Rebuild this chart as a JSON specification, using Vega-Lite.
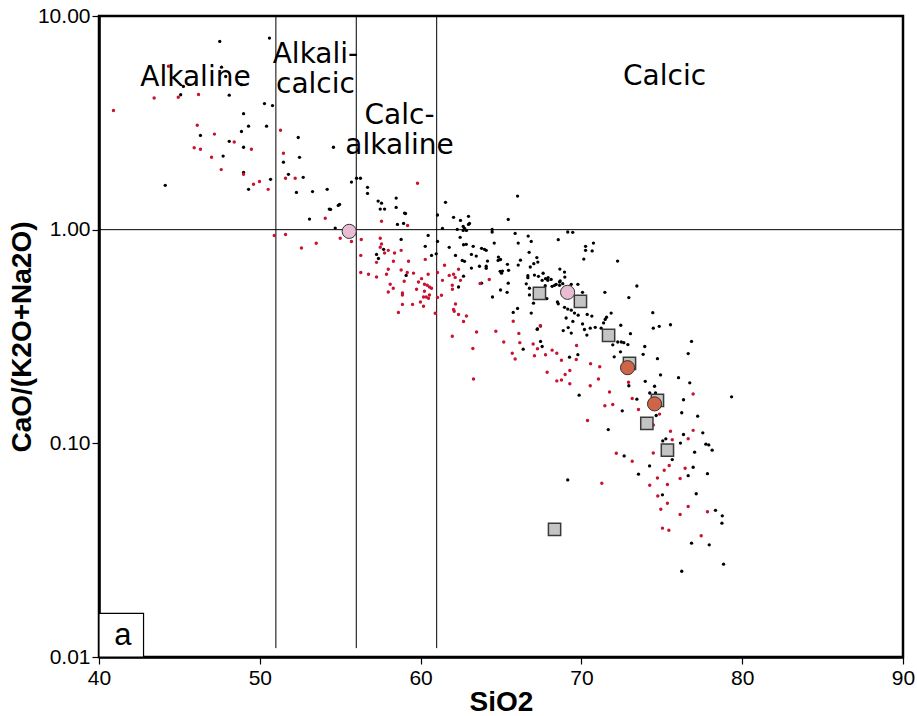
{
"$schema": "https://vega.github.io/schema/vega-lite/v6.json",
"width": 804, "height": 641,
"autosize": {"type": "none"},
"padding": {"left": 99, "top": 16, "right": 14, "bottom": 59},
"background": "white",
"config": {
 "view": {"stroke": "#000", "strokeWidth": 2.5},
 "axis": {"grid": false, "domainColor": "#000", "domainWidth": 2.5, "tickColor": "#000", "tickWidth": 1.2, "tickSize": 7, "labelFont": "Liberation Sans", "labelFontSize": 21, "labelColor": "#000", "titleFont": "Liberation Sans", "titleFontWeight": "bold", "titleFontSize": 28, "titleColor": "#000", "labelOverlap": false}
},
"datasets": {
 "black": [
{"SiO2":47.51,"ratio":7.60},{"SiO2":50.60,"ratio":7.88},{"SiO2":47.62,"ratio":5.76},{"SiO2":47.88,"ratio":5.21},{"SiO2":45.25,"ratio":4.68},{"SiO2":45.08,"ratio":4.28},{"SiO2":48.10,"ratio":4.26},{"SiO2":48.86,"ratio":4.77},{"SiO2":50.29,"ratio":3.89},{"SiO2":50.79,"ratio":3.81},{"SiO2":48.99,"ratio":3.49},{"SiO2":49.30,"ratio":3.05},{"SiO2":48.86,"ratio":2.88},{"SiO2":50.42,"ratio":3.05},{"SiO2":46.31,"ratio":2.76},{"SiO2":48.10,"ratio":2.59},{"SiO2":48.99,"ratio":2.43},{"SiO2":47.72,"ratio":2.21},{"SiO2":48.99,"ratio":1.853},{"SiO2":44.12,"ratio":1.612},{"SiO2":50.67,"ratio":1.72},{"SiO2":49.30,"ratio":1.544},{"SiO2":52.39,"ratio":2.70},{"SiO2":52.47,"ratio":2.18},{"SiO2":51.47,"ratio":2.07},{"SiO2":51.78,"ratio":1.815},{"SiO2":52.70,"ratio":1.757},{"SiO2":54.58,"ratio":2.43},{"SiO2":52.28,"ratio":1.494},{"SiO2":53.28,"ratio":1.507},{"SiO2":54.19,"ratio":1.544},{"SiO2":55.70,"ratio":1.67},{"SiO2":56.02,"ratio":1.74},{"SiO2":56.26,"ratio":1.74},{"SiO2":56.70,"ratio":1.578},{"SiO2":56.70,"ratio":1.478},{"SiO2":54.96,"ratio":1.313},{"SiO2":54.88,"ratio":1.299},{"SiO2":54.32,"ratio":1.248},{"SiO2":54.40,"ratio":1.244},{"SiO2":53.09,"ratio":1.121},{"SiO2":54.69,"ratio":1.017},
{"SiO2":57.36,"ratio":1.361},{"SiO2":57.57,"ratio":1.33},{"SiO2":58.48,"ratio":1.405},{"SiO2":58.48,"ratio":1.271},{"SiO2":57.49,"ratio":1.248},{"SiO2":57.76,"ratio":1.248},{"SiO2":59.00,"ratio":1.196},{"SiO2":59.06,"ratio":1.19},{"SiO2":58.56,"ratio":1.058},{"SiO2":58.94,"ratio":1.07},{"SiO2":61.55,"ratio":1.342},{"SiO2":61.05,"ratio":1.171},{"SiO2":62.05,"ratio":1.142},{"SiO2":62.48,"ratio":1.105},{"SiO2":62.98,"ratio":1.155},{"SiO2":63.04,"ratio":1.07},{"SiO2":62.98,"ratio":1.058},{"SiO2":62.65,"ratio":1.036},{"SiO2":62.73,"ratio":1.014},{"SiO2":62.65,"ratio":0.992},{"SiO2":62.85,"ratio":0.992},{"SiO2":62.28,"ratio":1.003},{"SiO2":61.36,"ratio":1.014},{"SiO2":64.45,"ratio":1.003},{"SiO2":64.45,"ratio":0.975},{"SiO2":65.45,"ratio":1.117},{"SiO2":66.03,"ratio":1.436},{"SiO2":65.88,"ratio":0.96},{"SiO2":66.07,"ratio":0.865},{"SiO2":66.07,"ratio":0.683},{"SiO2":58.79,"ratio":0.90},{"SiO2":60.47,"ratio":0.94},{"SiO2":60.29,"ratio":0.836},{"SiO2":61.05,"ratio":0.881},{"SiO2":61.78,"ratio":0.827},{"SiO2":62.46,"ratio":0.921},{"SiO2":62.84,"ratio":0.854},{"SiO2":62.67,"ratio":0.85},{"SiO2":63.27,"ratio":0.836},{"SiO2":63.79,"ratio":0.818},{"SiO2":63.97,"ratio":0.809},{"SiO2":64.08,"ratio":0.80},{"SiO2":64.58,"ratio":0.865},{"SiO2":63.16,"ratio":0.766},{"SiO2":63.46,"ratio":0.752},{"SiO2":62.17,"ratio":0.758},{"SiO2":60.97,"ratio":0.771},{"SiO2":60.68,"ratio":0.758},{"SiO2":57.70,"ratio":0.809},{"SiO2":57.26,"ratio":0.766},{"SiO2":57.38,"ratio":0.733},{"SiO2":64.16,"ratio":0.713},{"SiO2":64.84,"ratio":0.744},{"SiO2":64.97,"ratio":0.725},{"SiO2":64.82,"ratio":0.718},{"SiO2":62.59,"ratio":0.718},{"SiO2":62.73,"ratio":0.711},{"SiO2":63.16,"ratio":0.661},{"SiO2":63.66,"ratio":0.674},{"SiO2":64.08,"ratio":0.674},{"SiO2":64.08,"ratio":0.66},{"SiO2":64.95,"ratio":0.638},{"SiO2":65.03,"ratio":0.626},{"SiO2":65.09,"ratio":0.64},{"SiO2":65.40,"ratio":0.688},{"SiO2":65.47,"ratio":0.645},{"SiO2":62.67,"ratio":0.606},{"SiO2":62.36,"ratio":0.539},{"SiO2":63.79,"ratio":0.562},{"SiO2":64.97,"ratio":0.522},{"SiO2":65.38,"ratio":0.509},{"SiO2":65.45,"ratio":0.562},{"SiO2":64.47,"ratio":0.484},{"SiO2":65.76,"ratio":0.41},{"SiO2":66.03,"ratio":0.428},{"SiO2":59.10,"ratio":0.611},
{"SiO2":66.69,"ratio":0.933},{"SiO2":66.88,"ratio":0.881},{"SiO2":66.75,"ratio":0.783},{"SiO2":67.23,"ratio":0.74},{"SiO2":67.29,"ratio":0.705},{"SiO2":67.04,"ratio":0.693},{"SiO2":66.82,"ratio":0.669},{"SiO2":66.67,"ratio":0.609},{"SiO2":66.67,"ratio":0.596},{"SiO2":67.08,"ratio":0.613},{"SiO2":67.33,"ratio":0.605},{"SiO2":66.57,"ratio":0.558},{"SiO2":66.77,"ratio":0.532},{"SiO2":66.77,"ratio":0.495},{"SiO2":67.02,"ratio":0.453},{"SiO2":66.88,"ratio":0.407},{"SiO2":67.25,"ratio":0.342},{"SiO2":67.56,"ratio":0.579},{"SiO2":67.77,"ratio":0.59},{"SiO2":67.91,"ratio":0.579},{"SiO2":67.93,"ratio":0.597},{"SiO2":68.12,"ratio":0.585},{"SiO2":67.85,"ratio":0.476},{"SiO2":67.62,"ratio":0.625},{"SiO2":67.75,"ratio":0.547},{"SiO2":68.18,"ratio":0.543},{"SiO2":68.33,"ratio":0.549},{"SiO2":68.43,"ratio":0.555},{"SiO2":68.64,"ratio":0.569},{"SiO2":68.68,"ratio":0.575},{"SiO2":68.64,"ratio":0.549},{"SiO2":68.84,"ratio":0.559},{"SiO2":68.66,"ratio":0.654},{"SiO2":68.56,"ratio":0.898},{"SiO2":69.15,"ratio":0.975},{"SiO2":69.46,"ratio":0.972},{"SiO2":68.95,"ratio":0.633},{"SiO2":68.97,"ratio":0.6},{"SiO2":69.37,"ratio":0.555},{"SiO2":69.78,"ratio":0.555},{"SiO2":70.07,"ratio":0.509},{"SiO2":68.51,"ratio":0.459},{"SiO2":68.56,"ratio":0.45},{"SiO2":68.95,"ratio":0.433},{"SiO2":69.15,"ratio":0.425},{"SiO2":69.37,"ratio":0.42},{"SiO2":69.57,"ratio":0.407},{"SiO2":69.05,"ratio":0.386},{"SiO2":69.47,"ratio":0.372},{"SiO2":68.87,"ratio":0.337},{"SiO2":69.18,"ratio":0.348},{"SiO2":69.37,"ratio":0.328},{"SiO2":67.46,"ratio":0.354},{"SiO2":67.27,"ratio":0.343},{"SiO2":67.46,"ratio":0.30},{"SiO2":67.56,"ratio":0.284},{"SiO2":66.38,"ratio":0.276},{"SiO2":69.80,"ratio":0.398},{"SiO2":70.07,"ratio":0.362},{"SiO2":70.19,"ratio":0.341},{"SiO2":70.36,"ratio":0.401},{"SiO2":70.65,"ratio":0.394},{"SiO2":70.34,"ratio":0.321},{"SiO2":70.55,"ratio":0.346},{"SiO2":70.86,"ratio":0.349},{"SiO2":70.26,"ratio":0.836},{"SiO2":70.26,"ratio":0.80},{"SiO2":70.67,"ratio":0.795},{"SiO2":70.75,"ratio":0.865},{"SiO2":70.15,"ratio":0.728},{"SiO2":72.25,"ratio":0.713},{"SiO2":73.45,"ratio":0.545},{"SiO2":72.95,"ratio":0.481},{"SiO2":71.46,"ratio":0.509},{"SiO2":71.38,"ratio":0.366},{"SiO2":71.48,"ratio":0.38},{"SiO2":71.56,"ratio":0.389},{"SiO2":71.85,"ratio":0.407},{"SiO2":71.23,"ratio":0.346},{"SiO2":72.45,"ratio":0.357},{"SiO2":73.05,"ratio":0.326},{"SiO2":71.95,"ratio":0.289},{"SiO2":72.26,"ratio":0.298},{"SiO2":72.48,"ratio":0.298},{"SiO2":72.64,"ratio":0.296},{"SiO2":72.89,"ratio":0.29},{"SiO2":72.43,"ratio":0.268},{"SiO2":72.04,"ratio":0.254},{"SiO2":73.94,"ratio":0.284},{"SiO2":73.84,"ratio":0.261},{"SiO2":74.44,"ratio":0.409},{"SiO2":74.47,"ratio":0.346},{"SiO2":74.84,"ratio":0.353},{"SiO2":74.73,"ratio":0.249},{"SiO2":74.92,"ratio":0.209},{"SiO2":73.97,"ratio":0.195},{"SiO2":74.55,"ratio":0.185},{"SiO2":72.95,"ratio":0.186},{"SiO2":69.78,"ratio":0.26},{"SiO2":69.26,"ratio":0.253},{"SiO2":66.21,"ratio":0.72},
{"SiO2":75.54,"ratio":0.359},{"SiO2":76.85,"ratio":0.30},{"SiO2":76.64,"ratio":0.263},{"SiO2":76.04,"ratio":0.203},{"SiO2":76.74,"ratio":0.192},{"SiO2":76.35,"ratio":0.16},{"SiO2":76.24,"ratio":0.139},{"SiO2":77.23,"ratio":0.134},{"SiO2":79.34,"ratio":0.165},{"SiO2":74.61,"ratio":0.172},{"SiO2":74.25,"ratio":0.172},{"SiO2":73.45,"ratio":0.161},{"SiO2":72.54,"ratio":0.142},{"SiO2":74.65,"ratio":0.135},{"SiO2":69.86,"ratio":0.168},
{"SiO2":71.67,"ratio":0.116},{"SiO2":72.66,"ratio":0.0873},{"SiO2":73.55,"ratio":0.0717},{"SiO2":74.24,"ratio":0.0784},{"SiO2":75.06,"ratio":0.1026},{"SiO2":75.25,"ratio":0.105},{"SiO2":76.16,"ratio":0.1003},{"SiO2":76.35,"ratio":0.11},{"SiO2":77.55,"ratio":0.112},{"SiO2":77.74,"ratio":0.0991},{"SiO2":77.92,"ratio":0.0983},{"SiO2":78.13,"ratio":0.0929},{"SiO2":77.04,"ratio":0.0909},{"SiO2":75.65,"ratio":0.0839},{"SiO2":76.95,"ratio":0.0773},{"SiO2":76.64,"ratio":0.0706},{"SiO2":77.84,"ratio":0.0721},{"SiO2":75.04,"ratio":0.0574},{"SiO2":77.14,"ratio":0.0581},{"SiO2":78.34,"ratio":0.0486},{"SiO2":78.76,"ratio":0.0458},{"SiO2":78.74,"ratio":0.0423},{"SiO2":76.85,"ratio":0.0341},{"SiO2":77.95,"ratio":0.0335},{"SiO2":78.84,"ratio":0.0272},{"SiO2":76.24,"ratio":0.0252},{"SiO2":69.15,"ratio":0.0674}
 ],
 "red": [
{"SiO2":40.90,"ratio":3.61},{"SiO2":44.32,"ratio":5.82},{"SiO2":43.43,"ratio":4.13},{"SiO2":44.93,"ratio":4.17},{"SiO2":46.19,"ratio":4.29},{"SiO2":46.11,"ratio":3.08},{"SiO2":47.18,"ratio":2.80},{"SiO2":48.41,"ratio":2.57},{"SiO2":45.92,"ratio":2.42},{"SiO2":46.31,"ratio":2.38},{"SiO2":49.48,"ratio":2.38},{"SiO2":47.00,"ratio":2.18},{"SiO2":47.60,"ratio":1.91},{"SiO2":48.99,"ratio":1.815},{"SiO2":49.61,"ratio":1.63},{"SiO2":49.98,"ratio":1.68},{"SiO2":50.52,"ratio":1.544},{"SiO2":51.29,"ratio":2.92},{"SiO2":51.47,"ratio":2.28},{"SiO2":51.60,"ratio":1.74},{"SiO2":52.20,"ratio":1.74},{"SiO2":54.07,"ratio":1.13},{"SiO2":50.90,"ratio":0.94},{"SiO2":51.60,"ratio":0.95},{"SiO2":52.59,"ratio":0.82},{"SiO2":53.51,"ratio":0.863},{"SiO2":55.00,"ratio":0.911},{"SiO2":55.70,"ratio":0.881},{"SiO2":56.31,"ratio":0.90},{"SiO2":56.28,"ratio":0.758},{"SiO2":56.28,"ratio":0.631},{"SiO2":57.99,"ratio":0.511},{"SiO2":56.76,"ratio":0.618},{"SiO2":57.26,"ratio":0.60},{"SiO2":57.26,"ratio":0.703},{"SiO2":57.49,"ratio":0.911},{"SiO2":57.57,"ratio":0.856},{"SiO2":57.49,"ratio":0.827},{"SiO2":57.76,"ratio":0.777},{"SiO2":57.99,"ratio":0.80},{"SiO2":58.38,"ratio":0.777},{"SiO2":58.79,"ratio":0.80},{"SiO2":57.57,"ratio":1.094},{"SiO2":59.19,"ratio":1.047},{"SiO2":59.81,"ratio":1.65},{"SiO2":57.99,"ratio":0.652},{"SiO2":57.88,"ratio":0.618},{"SiO2":58.31,"ratio":0.711},{"SiO2":58.79,"ratio":0.647},{"SiO2":59.25,"ratio":0.711},{"SiO2":59.17,"ratio":0.631},{"SiO2":59.56,"ratio":0.626},{"SiO2":58.11,"ratio":0.555},{"SiO2":58.30,"ratio":0.532},{"SiO2":58.98,"ratio":0.573},{"SiO2":58.87,"ratio":0.505},{"SiO2":58.87,"ratio":0.494},{"SiO2":58.87,"ratio":0.447},{"SiO2":58.62,"ratio":0.41},{"SiO2":59.50,"ratio":0.447},{"SiO2":59.75,"ratio":0.526},{"SiO2":59.87,"ratio":0.569},{"SiO2":60.06,"ratio":0.59},{"SiO2":60.24,"ratio":0.555},{"SiO2":60.41,"ratio":0.549},{"SiO2":60.55,"ratio":0.539},{"SiO2":60.68,"ratio":0.532},{"SiO2":60.24,"ratio":0.515},{"SiO2":60.55,"ratio":0.495},{"SiO2":60.18,"ratio":0.484},{"SiO2":60.35,"ratio":0.484},{"SiO2":60.49,"ratio":0.477},{"SiO2":59.99,"ratio":0.459},{"SiO2":60.18,"ratio":0.438},{"SiO2":60.47,"ratio":0.618},{"SiO2":60.29,"ratio":0.726},{"SiO2":60.91,"ratio":0.406},{"SiO2":61.05,"ratio":0.482},{"SiO2":61.30,"ratio":0.493},{"SiO2":61.05,"ratio":0.631},{"SiO2":61.36,"ratio":0.579},{"SiO2":61.49,"ratio":0.681},{"SiO2":61.78,"ratio":0.611},{"SiO2":62.05,"ratio":0.618},{"SiO2":62.15,"ratio":0.598},{"SiO2":62.36,"ratio":0.652},{"SiO2":61.97,"ratio":0.549},{"SiO2":61.98,"ratio":0.526},{"SiO2":62.48,"ratio":0.579},{"SiO2":62.17,"ratio":0.449},{"SiO2":62.05,"ratio":0.423},{"SiO2":62.09,"ratio":0.415},{"SiO2":62.36,"ratio":0.401},{"SiO2":62.85,"ratio":0.394},{"SiO2":62.67,"ratio":0.372},{"SiO2":63.70,"ratio":0.56},{"SiO2":64.27,"ratio":0.585},{"SiO2":61.97,"ratio":0.317},{"SiO2":63.48,"ratio":0.332},{"SiO2":64.68,"ratio":0.335},{"SiO2":65.17,"ratio":0.298},{"SiO2":63.25,"ratio":0.278},{"SiO2":65.76,"ratio":0.373},{"SiO2":66.11,"ratio":0.327},{"SiO2":67.00,"ratio":0.292},{"SiO2":67.27,"ratio":0.277},{"SiO2":67.44,"ratio":0.355},{"SiO2":67.77,"ratio":0.26},{"SiO2":68.18,"ratio":0.273},{"SiO2":68.47,"ratio":0.264},{"SiO2":67.08,"ratio":0.257},{"SiO2":66.17,"ratio":0.296},{"SiO2":65.70,"ratio":0.264},{"SiO2":65.88,"ratio":0.248},{"SiO2":63.29,"ratio":0.2},{"SiO2":68.76,"ratio":0.245},{"SiO2":69.68,"ratio":0.247},{"SiO2":69.70,"ratio":0.287},{"SiO2":70.57,"ratio":0.236},{"SiO2":71.14,"ratio":0.228},{"SiO2":71.06,"ratio":0.2},{"SiO2":67.87,"ratio":0.215},{"SiO2":68.47,"ratio":0.196},{"SiO2":68.76,"ratio":0.198},{"SiO2":68.99,"ratio":0.21},{"SiO2":69.28,"ratio":0.219},{"SiO2":69.28,"ratio":0.19},{"SiO2":70.55,"ratio":0.186},{"SiO2":72.93,"ratio":0.193},{"SiO2":76.95,"ratio":0.17},{"SiO2":73.16,"ratio":0.162},{"SiO2":73.55,"ratio":0.144},{"SiO2":74.86,"ratio":0.137},{"SiO2":71.46,"ratio":0.15},{"SiO2":71.95,"ratio":0.152},{"SiO2":71.75,"ratio":0.174},{"SiO2":70.38,"ratio":0.128},{"SiO2":75.54,"ratio":0.114},{"SiO2":75.65,"ratio":0.104},{"SiO2":76.95,"ratio":0.115},{"SiO2":76.64,"ratio":0.105},{"SiO2":74.47,"ratio":0.0902},{"SiO2":72.17,"ratio":0.0899},{"SiO2":73.16,"ratio":0.0825},{"SiO2":71.27,"ratio":0.0651},{"SiO2":75.46,"ratio":0.0788},{"SiO2":75.15,"ratio":0.0749},{"SiO2":74.73,"ratio":0.0689},{"SiO2":75.35,"ratio":0.0642},{"SiO2":74.25,"ratio":0.0637},{"SiO2":76.45,"ratio":0.0765},{"SiO2":76.14,"ratio":0.0684},{"SiO2":74.75,"ratio":0.0567},{"SiO2":75.35,"ratio":0.0524},{"SiO2":74.94,"ratio":0.0491},{"SiO2":76.64,"ratio":0.0506},{"SiO2":76.14,"ratio":0.0464},{"SiO2":77.84,"ratio":0.0478},{"SiO2":75.04,"ratio":0.0401},{"SiO2":75.44,"ratio":0.0392},{"SiO2":77.45,"ratio":0.0369},{"SiO2":74.47,"ratio":0.122}
 ],
 "squares": [
{"SiO2":67.39,"ratio":0.503},{"SiO2":69.94,"ratio":0.462},{"SiO2":71.69,"ratio":0.32},{"SiO2":72.99,"ratio":0.237},{"SiO2":74.73,"ratio":0.159},{"SiO2":74.07,"ratio":0.124},{"SiO2":75.35,"ratio":0.0929},{"SiO2":68.33,"ratio":0.0396}
 ],
 "circles": [
{"SiO2":55.56,"ratio":0.982,"kind":"pink"},{"SiO2":69.14,"ratio":0.509,"kind":"pink"},{"SiO2":72.87,"ratio":0.226,"kind":"orange"},{"SiO2":74.55,"ratio":0.153,"kind":"orange"}
 ],
 "vlines": [
{"SiO2":51,"ratio":10,"ratio2":0.011},{"SiO2":56,"ratio":10,"ratio2":0.011},{"SiO2":61,"ratio":10,"ratio2":0.011}
 ],
 "hline": [{"SiO2":40,"SiO2b":90,"ratio":1}],
 "box": [{"SiO2":40,"SiO2b":42.77,"ratio":0.01,"ratio2":0.016}],
 "labels": [
{"SiO2":46.0,"ratio":5.15,"label":"Alkaline"},{"SiO2":53.46,"ratio":6.54,"label":"Alkali-\ncalcic"},{"SiO2":58.69,"ratio":3.42,"label":"Calc-\nalkaline"},{"SiO2":75.17,"ratio":5.21,"label":"Calcic"}
 ],
 "panel": [{"SiO2":41.48,"ratio":0.0126,"label":"a"}]
},
"encoding": {
 "x": {"field": "SiO2", "type": "quantitative", "title": "SiO2",
   "scale": {"domain": [40, 90], "nice": false, "zero": false},
   "axis": {"values": [40, 50, 60, 70, 80, 90], "labelFlush": false, "labelPadding": 3, "titlePadding": 0}},
 "y": {"field": "ratio", "type": "quantitative", "title": "CaO/(K2O+Na2O)",
   "scale": {"type": "log", "domain": [0.01, 10], "nice": false},
   "axis": {"values": [0.01, 0.1, 1, 10], "format": ".2f", "labelPadding": 2, "titlePadding": 1}}
},
"layer": [
 {"data": {"name": "vlines"}, "mark": {"type": "rule", "color": "#000", "strokeWidth": 1}, "encoding": {"y2": {"field": "ratio2"}}},
 {"data": {"name": "hline"}, "mark": {"type": "rule", "color": "#000", "strokeWidth": 1}, "encoding": {"x2": {"field": "SiO2b"}}},
 {"data": {"name": "box"}, "mark": {"type": "rect", "fill": "white", "stroke": "#000", "strokeWidth": 1.2}, "encoding": {"x2": {"field": "SiO2b"}, "y2": {"field": "ratio2"}}},
 {"data": {"name": "panel"}, "mark": {"type": "text", "font": "Liberation Sans", "fontSize": 31, "align": "center", "baseline": "middle", "color": "#000"}, "encoding": {"text": {"field": "label"}}},
 {"data": {"name": "black"}, "mark": {"type": "circle", "size": 11, "color": "#000", "opacity": 1}},
 {"data": {"name": "red"}, "mark": {"type": "circle", "size": 12, "color": "#c81432", "opacity": 1}},
 {"data": {"name": "squares"}, "mark": {"type": "square", "size": 150, "fill": "#c4c4c4", "stroke": "#3a3a3a", "strokeWidth": 1.5, "opacity": 1}},
 {"data": {"name": "circles"}, "mark": {"type": "point", "shape": "circle", "filled": true, "size": 200, "stroke": "#333", "strokeWidth": 1, "opacity": 1},
  "encoding": {"fill": {"field": "kind", "type": "nominal", "scale": {"domain": ["pink", "orange"], "range": ["#e8bcd2", "#cf6446"]}, "legend": null}}},
 {"data": {"name": "labels"}, "mark": {"type": "text", "font": "DejaVu Sans", "fontSize": 28, "lineHeight": 30, "lineBreak": "\n", "align": "center", "baseline": "middle", "color": "#000"}, "encoding": {"text": {"field": "label"}}}
]
}
